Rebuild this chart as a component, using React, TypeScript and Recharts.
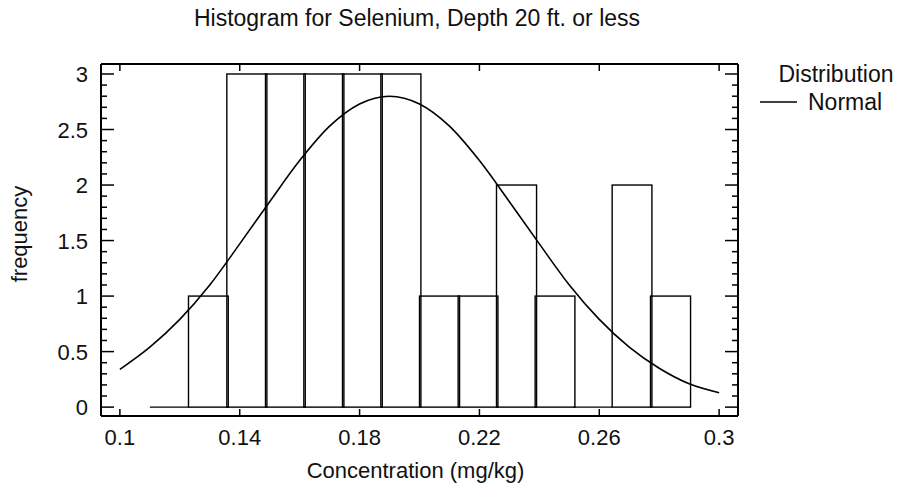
import { ComposedChart, Line, XAxis, YAxis, ReferenceArea, ReferenceLine, Label } from 'recharts'

const binStart = [0.11, 0.1229, 0.1357, 0.1486, 0.1614, 0.1743, 0.1871, 0.2, 0.2129, 0.2257, 0.2386, 0.2514, 0.2643, 0.2771]
const binEnd = [0.1229, 0.1357, 0.1486, 0.1614, 0.1743, 0.1871, 0.2, 0.2129, 0.2257, 0.2386, 0.2514, 0.2643, 0.2771, 0.29]
const frequency = [0, 1, 3, 3, 3, 3, 3, 1, 1, 2, 1, 0, 2, 1]

const curveX = [0.1, 0.11, 0.12, 0.13, 0.14, 0.15, 0.16, 0.17, 0.18, 0.19, 0.2, 0.21, 0.22, 0.23, 0.24, 0.25, 0.26, 0.27, 0.28, 0.29, 0.3]
const curveY = [0.34, 0.54, 0.79, 1.1, 1.47, 1.85, 2.22, 2.53, 2.73, 2.8, 2.73, 2.53, 2.22, 1.85, 1.47, 1.1, 0.79, 0.54, 0.35, 0.21, 0.13]

const xTicks = [0.1, 0.14, 0.18, 0.22, 0.26, 0.3]
const xTickLabels = ['0.1', '0.14', '0.18', '0.22', '0.26', '0.3']
const yTicks = [0, 0.1, 0.2, 0.3, 0.4, 0.5, 0.6, 0.7, 0.8, 0.9, 1, 1.1, 1.2, 1.3, 1.4, 1.5, 1.6, 1.7, 1.8, 1.9, 2, 2.1, 2.2, 2.3, 2.4, 2.5, 2.6, 2.7, 2.8, 2.9, 3]
const yTickLabels: Record<string, string> = { '0': '0', '0.5': '0.5', '1': '1', '1.5': '1.5', '2': '2', '2.5': '2.5', '3': '3' }

const font = 'Liberation Sans, Arial, sans-serif'
const xDomain = [0.0937, 0.3063]
const yDomain = [-0.08, 3.09]

const curve = curveX.map((x, i) => ({ x, y: curveY[i] }))

const BottomTick = ({ x, y, index }: any) => (
  <g>
    <line x1={x} y1={y} x2={x} y2={y - 7} stroke="#000" strokeWidth={1.5} />
    <text x={x} y={y + 29} textAnchor="middle" fontSize={22} fontFamily={font} fill="#111">
      {xTickLabels[index]}
    </text>
  </g>
)

const TopTick = ({ x, y }: any) => (
  <line x1={x} y1={y} x2={x} y2={y + 7} stroke="#000" strokeWidth={1.5} />
)

const LeftTick = ({ x, y, payload }: any) => {
  const label = yTickLabels[String(payload.value)]
  return (
    <g>
      <line x1={x} y1={y} x2={x + (label ? 13 : 6)} y2={y} stroke="#000" strokeWidth={1.5} />
      {label && (
        <text x={x - 13} y={y + 8} textAnchor="end" fontSize={22} fontFamily={font} fill="#111">
          {label}
        </text>
      )}
    </g>
  )
}

const RightTick = ({ x, y, payload }: any) => {
  const major = !!yTickLabels[String(payload.value)]
  return <line x1={x} y1={y} x2={x - (major ? 13 : 6)} y2={y} stroke="#000" strokeWidth={1.5} />
}

// outline only, slightly wider so shared edges double up
const BarShape = (props: any) => (
  <rect x={props.x} y={props.y} width={props.width + 1.4} height={props.height} fill="none" stroke="#000" strokeWidth={1.4} />
)

export default function App() {
  return (
    <div style={{ position: 'absolute', left: 0, top: 0, width: 899, height: 487, background: '#fff' }}>
      <ComposedChart width={899} height={487} data={curve} margin={{ top: 0, right: 0, bottom: 0, left: 0 }}>
        <XAxis
          dataKey="x"
          type="number"
          domain={xDomain}
          ticks={xTicks}
          interval={0}
          allowDataOverflow
          height={71}
          tickSize={0}
          tickMargin={0}
          tickLine={false}
          axisLine={{ stroke: '#000', strokeWidth: 2 }}
          tick={<BottomTick />}
        >
          <Label
            content={({ viewBox }: any) => (
              <text x={viewBox.x + viewBox.width / 2 - 4} y={478} textAnchor="middle" fontSize={22} fontFamily={font} fill="#111">
                Concentration (mg/kg)
              </text>
            )}
          />
        </XAxis>
        <XAxis
          xAxisId="top"
          orientation="top"
          dataKey="x"
          type="number"
          domain={xDomain}
          ticks={xTicks}
          interval={0}
          allowDataOverflow
          height={64}
          tickSize={0}
          tickMargin={0}
          tickLine={false}
          axisLine={{ stroke: '#000', strokeWidth: 2 }}
          tick={<TopTick />}
        />
        <YAxis
          type="number"
          domain={yDomain}
          ticks={yTicks}
          interval={0}
          allowDataOverflow
          width={101}
          tickSize={0}
          tickMargin={0}
          tickLine={false}
          axisLine={{ stroke: '#000', strokeWidth: 2 }}
          tick={<LeftTick />}
        >
          <Label
            content={({ viewBox }: any) => (
              <text
                x={27}
                y={viewBox.y + viewBox.height / 2 - 6}
                transform={`rotate(-90 27 ${viewBox.y + viewBox.height / 2 - 6})`}
                textAnchor="middle"
                fontSize={22}
                fontFamily={font}
                fill="#111"
              >
                frequency
              </text>
            )}
          />
        </YAxis>
        <YAxis
          yAxisId="right"
          orientation="right"
          type="number"
          domain={yDomain}
          ticks={yTicks}
          interval={0}
          allowDataOverflow
          width={161}
          tickSize={0}
          tickMargin={0}
          tickLine={false}
          axisLine={{ stroke: '#000', strokeWidth: 2 }}
          tick={<RightTick />}
        />
        {frequency.map((f, i) =>
          f > 0 ? (
            <ReferenceArea
              key={i}
              x1={binStart[i]}
              x2={binEnd[i]}
              y1={0}
              y2={f}
              fill="none"
              stroke="#000"
              shape={BarShape}
            />
          ) : (
            <ReferenceLine
              key={i}
              segment={[{ x: binStart[i], y: 0 }, { x: binEnd[i], y: 0 }]}
              stroke="#000"
              strokeWidth={1.4}
            />
          )
        )}
        <Line type="monotone" dataKey="y" stroke="#000" strokeWidth={1.6} dot={false} isAnimationActive={false} />
      </ComposedChart>
      <svg width={899} height={487} style={{ position: 'absolute', left: 0, top: 0, pointerEvents: 'none' }}>
        <text x={417} y={26} textAnchor="middle" fontSize={23} fontFamily={font} fill="#111">
          Histogram for Selenium, Depth 20 ft. or less
        </text>
        <text x={836} y={82} textAnchor="middle" fontSize={23} fontFamily={font} fill="#111">
          Distribution
        </text>
        <line x1={760} y1={102} x2={797} y2={102} stroke="#000" strokeWidth={1.5} />
        <text x={808} y={110} fontSize={23} fontFamily={font} fill="#111">
          Normal
        </text>
      </svg>
    </div>
  )
}
